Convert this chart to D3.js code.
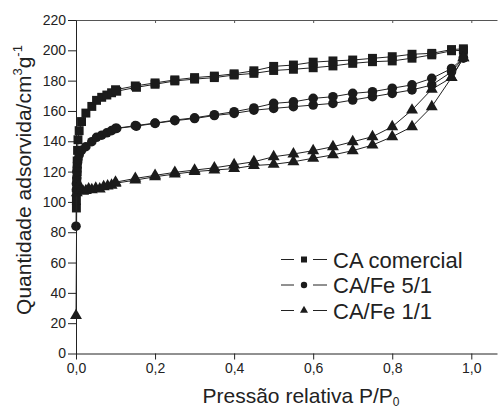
<!DOCTYPE html>
<html>
<head>
<meta charset="utf-8">
<script src="https://cdn.jsdelivr.net/npm/d3@7"></script>
<style>
  body { margin: 0; background: #fff; }
  svg { display: block; font-family: "Liberation Sans", Arial, sans-serif; }
  .axis text { font-size: 14px; fill: #222; }
  .axis path, .axis line { stroke: #222; stroke-width: 1; }
</style>
</head>
<body>
<div class="chart"></div>
<script>
// Isoterma de adsorcao N2 - tres amostras, ramos de adsorcao e dessorcao
var seriesNames = ["CA comercial", "CA/Fe 5/1", "CA/Fe 1/1"];

var caAdsP = [0.001, 0.001, 0.002, 0.002, 0.003, 0.003, 0.004, 0.005, 0.008, 0.014, 0.025, 0.04, 0.052, 0.065, 0.078, 0.09, 0.103, 0.153, 0.2, 0.25, 0.3, 0.35, 0.4, 0.45, 0.5, 0.55, 0.6, 0.65, 0.7, 0.75, 0.8, 0.85, 0.9, 0.95, 0.98];
var caAdsV = [96, 101, 107, 113, 120, 127, 134, 141, 147, 153, 158.6, 163, 167, 169, 170.5, 172, 173, 175.6, 177.6, 179.8, 181, 182, 183.7, 184.8, 186.7, 187.5, 188.5, 189.7, 191.4, 192.5, 193, 194.8, 197, 199.7, 200];
var caDesP = [0.98, 0.95, 0.9, 0.85, 0.8, 0.75, 0.7, 0.65, 0.6, 0.55, 0.5, 0.45, 0.4, 0.35, 0.3, 0.25, 0.2, 0.15, 0.1];
var caDesV = [201, 200.5, 198, 197.4, 195.8, 194.7, 193.6, 193, 192.2, 190.3, 189.4, 186.5, 184.5, 183, 182, 180.5, 178.5, 176.5, 174];

var fe51AdsP = [0, 0.001, 0.001, 0.002, 0.002, 0.003, 0.004, 0.005, 0.008, 0.014, 0.025, 0.04, 0.052, 0.065, 0.078, 0.09, 0.103, 0.153, 0.2, 0.25, 0.3, 0.35, 0.4, 0.45, 0.5, 0.55, 0.6, 0.65, 0.7, 0.75, 0.8, 0.85, 0.9, 0.95, 0.98];
var fe51AdsV = [84, 108, 112, 116, 120, 123, 126, 128, 131, 134, 136.4, 139.7, 142.6, 144, 145.6, 147, 148.5, 150, 151.8, 153.6, 155, 157, 158.4, 160.5, 161.7, 162.8, 163.9, 165, 167.2, 169.4, 171.6, 173.9, 177.1, 185.8, 195];
var fe51DesP = [0.98, 0.95, 0.9, 0.85, 0.8, 0.75, 0.7, 0.65, 0.6, 0.55, 0.5, 0.45, 0.4, 0.35, 0.3, 0.25, 0.2, 0.15, 0.1];
var fe51DesV = [195, 188, 181.5, 177.2, 175, 172.7, 171.6, 169.4, 168.3, 166, 165, 162, 159.5, 157.5, 155.5, 154, 152, 150.3, 148.5];

var fe11AdsP = [0, 0.002, 0.004, 0.008, 0.012, 0.018, 0.025, 0.032, 0.04, 0.05, 0.06, 0.07, 0.08, 0.09, 0.1, 0.15, 0.2, 0.25, 0.3, 0.35, 0.4, 0.45, 0.5, 0.55, 0.6, 0.65, 0.7, 0.75, 0.8, 0.85, 0.9, 0.95, 0.98];
var fe11AdsV = [25, 106, 109, 111, 108, 107, 107.5, 108.5, 108, 109, 108.5, 110, 110.5, 111, 112.3, 114.4, 116.6, 118.4, 120, 121, 122, 124, 124.8, 126.5, 128.8, 131, 133.8, 137.5, 143, 149.6, 162.8, 182, 195];
var fe11DesP = [0.98, 0.95, 0.9, 0.85, 0.8, 0.75, 0.7, 0.65, 0.6, 0.55, 0.5, 0.45, 0.4, 0.35, 0.3, 0.25, 0.2, 0.15, 0.1];
var fe11DesV = [195, 182, 174.3, 160.6, 149.6, 143, 139.7, 136.4, 133.8, 131.6, 129.8, 126.5, 124.5, 122.5, 121, 119.5, 117.5, 115.5, 113];

var xTicks = [0, 0.2, 0.4, 0.6, 0.8, 1.0];
var yTicks = [0, 20, 40, 60, 80, 100, 120, 140, 160, 180, 200, 220];

var width = 498,
	height = 409,
	margin = {top: 20, right: 1, bottom: 55.5, left: 76},
	svg = d3.select(".chart").append("svg")
		.attr("width", width)
		.attr("height", height);

var x = d3.scaleLinear().domain([0, 1.065]).range([margin.left, width - margin.right]),
	y = d3.scaleLinear().domain([0, 220]).range([height - margin.bottom, margin.top]);

function zip(p, v) {
	return p.map(function(d, i) { return {p: d, v: v[i]}; });
}

var series = [
	{name: seriesNames[0], shape: d3.symbolSquare, size: 80, branches: [zip(caAdsP, caAdsV), zip(caDesP, caDesV)]},
	{name: seriesNames[1], shape: d3.symbolCircle, size: 72, branches: [zip(fe51AdsP, fe51AdsV), zip(fe51DesP, fe51DesV)]},
	{name: seriesNames[2], shape: d3.symbolTriangle, size: 62, branches: [zip(fe11AdsP, fe11AdsV), zip(fe11DesP, fe11DesV)]}
];

var fmt = function(d) { return d3.format(".1f")(d).replace(".", ","); };

// top frame line, ticks pointing in
svg.append("g")
	.attr("class", "axis")
	.attr("transform", "translate(0," + margin.top + ")")
	.call(d3.axisTop(x).tickValues(xTicks).tickSize(-3).tickSizeOuter(0).tickFormat(""))
	.call(function(g) { g.selectAll("path, line").style("stroke", "#555"); });

svg.append("g")
	.attr("class", "axis axis--x")
	.attr("transform", "translate(0," + y(0) + ")")
	.call(d3.axisBottom(x).tickValues(xTicks).tickSize(6).tickPadding(4).tickSizeOuter(0).tickFormat(fmt));

svg.append("g")
	.attr("class", "axis axis--y")
	.attr("transform", "translate(" + margin.left + ",0)")
	.call(d3.axisLeft(y).tickValues(yTicks).tickSize(8).tickPadding(2).tickSizeOuter(0));

var line = d3.line()
	.x(function(d) { return x(d.p); })
	.y(function(d) { return y(d.v); });

series.forEach(function(s) {
	var g = svg.append("g");
	s.branches.forEach(function(b) {
		g.append("path")
			.datum(b)
			.attr("d", line)
			.style("fill", "none")
			.style("stroke", "#222")
			.style("stroke-width", 1);
	});
	s.branches.forEach(function(b) {
		g.selectAll(null)
			.data(b)
			.enter().append("path")
				.attr("d", d3.symbol().type(s.shape).size(s.size))
				.attr("transform", function(d) { return "translate(" + x(d.p) + "," + y(d.v) + ")"; })
				.style("fill", "#1b1b1b");
	});
});

// legend
var legend = svg.append("g").attr("class", "legend");
series.forEach(function(s, i) {
	var ly = 259.5 + i * 25.5;
	legend.append("line").attr("x1", 281).attr("x2", 294).attr("y1", ly).attr("y2", ly).style("stroke", "#222");
	legend.append("line").attr("x1", 313).attr("x2", 327).attr("y1", ly).attr("y2", ly).style("stroke", "#222");
	legend.append("path")
		.attr("d", d3.symbol().type(s.shape).size(s.size * 0.45))
		.attr("transform", "translate(304," + ly + ")")
		.style("fill", "#1b1b1b");
	legend.append("text")
		.attr("x", 333)
		.attr("y", ly + 8)
		.style("font-size", "22px")
		.style("fill", "#222")
		.text(s.name);
});

// axis titles
var xt = svg.append("text")
	.attr("x", 301)
	.attr("y", 403)
	.style("text-anchor", "middle")
	.style("font-size", "21px")
	.style("fill", "#222");
xt.append("tspan").text("Pressão relativa P/P");
xt.append("tspan").attr("dy", 3).style("font-size", "12px").text("0");

var yt = svg.append("text")
	.attr("transform", "translate(31,180) rotate(-90)")
	.style("text-anchor", "middle")
	.style("font-size", "21px")
	.style("fill", "#222");
yt.append("tspan").text("Quantidade adsorvida/cm");
yt.append("tspan").attr("dy", -9).style("font-size", "13px").text("3");
yt.append("tspan").attr("dy", 9).text("g");
yt.append("tspan").attr("dy", -9).style("font-size", "13px").text("-1");
</script>
</body>
</html>
